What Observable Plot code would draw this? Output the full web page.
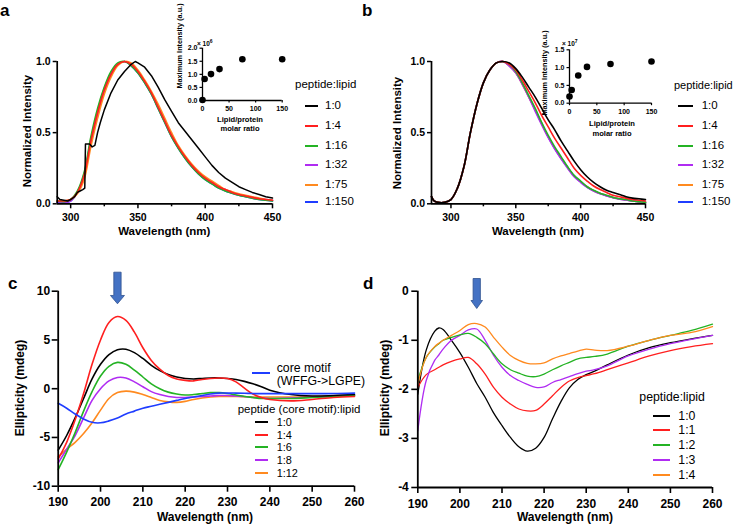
<!DOCTYPE html>
<html><head><meta charset="utf-8">
<script src="https://cdn.jsdelivr.net/npm/d3@7"></script>
<script src="https://cdn.jsdelivr.net/npm/@observablehq/plot@0.6"></script>
<style>
body{margin:0;background:#fff}
#fig{position:relative;width:733px;height:528px;overflow:hidden;font-family:"Liberation Sans",Arial,sans-serif;color:#000;background:#fff}
.t{position:absolute;white-space:nowrap;line-height:1}
.sw{position:absolute}
</style></head><body><div id="fig"></div>
<script>
// ---------- colours ----------
const pal = {black:"#000000", red:"#ff1f1f", green:"#24b324", purple:"#b02cf2", orange:"#ff8a1f", blue:"#1f3dff"};

// ---------- panel a (emission, normalized) ----------
const aWl = [290,295,300,305,310,315,320,325,330,335,340,345,350,355,360,365,370,375,380,385,390,395,400,405,410,415,420,425,430,435,440,445,450];
const aRed    = [0.02,0.02,0.03,0.08,0.20,0.44,0.64,0.80,0.91,0.98,1.00,0.98,0.93,0.86,0.78,0.68,0.58,0.48,0.40,0.33,0.27,0.22,0.18,0.15,0.12,0.10,0.08,0.065,0.055,0.045,0.035,0.03,0.025];
const aGreen  = [0.02,0.015,0.03,0.09,0.22,0.47,0.67,0.82,0.93,0.99,1.00,0.97,0.92,0.85,0.77,0.67,0.57,0.47,0.39,0.32,0.26,0.21,0.17,0.14,0.11,0.09,0.075,0.06,0.05,0.04,0.03,0.025,0.02];
const aOrange = [0.02,0.02,0.03,0.07,0.17,0.40,0.60,0.77,0.89,0.97,1.00,0.99,0.94,0.87,0.79,0.70,0.60,0.50,0.41,0.34,0.28,0.23,0.19,0.16,0.13,0.10,0.085,0.07,0.06,0.05,0.04,0.03,0.025];
const aPurple = [0.015,0.01,0.02,0.08,0.20,0.43,0.63,0.79,0.91,0.98,1.00,0.98,0.93,0.86,0.78,0.68,0.58,0.48,0.40,0.33,0.27,0.22,0.18,0.15,0.12,0.10,0.08,0.065,0.055,0.045,0.035,0.03,0.025];
const aBlue   = [0.01,0.01,0.02,0.08,0.21,0.45,0.65,0.81,0.92,0.98,1.00,0.97,0.92,0.85,0.77,0.67,0.57,0.47,0.39,0.32,0.26,0.21,0.17,0.14,0.11,0.09,0.075,0.06,0.05,0.04,0.03,0.025,0.02];
const aBlackWl = [290,292,295,298,300,303,305,307,309,310.5,311,314,316,318,320,322,325,330,335,340,345,348,350,355,360,365,370,375,380,385,390,395,400,405,410,415,420,425,430,435,440,445,450];
const aBlack   = [0.05,0.03,0.025,0.02,0.03,0.05,0.08,0.09,0.10,0.11,0.42,0.42,0.40,0.41,0.50,0.57,0.66,0.78,0.87,0.93,0.98,1.00,0.99,0.96,0.90,0.82,0.73,0.65,0.57,0.51,0.45,0.39,0.33,0.27,0.22,0.18,0.15,0.12,0.10,0.08,0.065,0.05,0.04];
const abTicksX = [300,350,400,450];
const abMinorX = [325,375,425];
const abTicksY = [0,0.5,1];

// inset a
const insRatio = [0,4,16,32,75,150];
const insA = [0.02,0.82,1.01,1.20,1.58,1.58];   // x 10^6
const insATicksY = [0,0.5,1,1.5,2];
const insTicksX = [0,50,100,150];

// ---------- panel b ----------
const bWl = [285,287,290,295,300,305,310,315,320,325,330,335,340,345,350,355,360,365,370,375,380,385,390,395,400,405,410,415,420,425,430,435,440,445,450];
const bLeft = [0.05,0.02,0.01,0.01,0.03,0.11,0.26,0.50,0.70,0.85,0.94,0.99,1.00];
const bBlackR  = [0.99,0.95,0.89,0.82,0.75,0.67,0.59,0.52,0.44,0.37,0.30,0.24,0.19,0.15,0.12,0.095,0.08,0.065,0.05,0.04,0.035,0.03];
const bRedR    = [0.98,0.94,0.87,0.79,0.71,0.62,0.54,0.46,0.39,0.32,0.25,0.20,0.16,0.125,0.10,0.08,0.06,0.05,0.04,0.03,0.025,0.02];
const bGreenR  = [0.98,0.93,0.85,0.76,0.67,0.57,0.48,0.40,0.33,0.26,0.20,0.16,0.12,0.095,0.075,0.06,0.045,0.035,0.03,0.02,0.015,0.01];
const bPurpleR = [0.97,0.92,0.84,0.75,0.65,0.555,0.465,0.385,0.315,0.25,0.19,0.15,0.115,0.09,0.07,0.055,0.042,0.033,0.027,0.02,0.015,0.01];
const bOrangeR = [0.97,0.92,0.84,0.75,0.66,0.56,0.47,0.39,0.32,0.255,0.195,0.155,0.12,0.092,0.072,0.057,0.044,0.034,0.028,0.02,0.015,0.01];
const bBlueR   = [0.97,0.92,0.845,0.755,0.66,0.565,0.47,0.39,0.32,0.255,0.195,0.155,0.118,0.092,0.072,0.057,0.044,0.034,0.028,0.02,0.015,0.01];

// inset b
const insB = [0.19,0.37,0.78,1.02,1.10,1.17];   // x 10^7
const insBTicksY = [0,0.5,1,1.5];

// ---------- panel c (CD) ----------
const cWl = [190,192,194,196,198,200,202,204,206,208,210,212,214,216,218,220,222,224,226,228,230,232,234,236,238,240,245,250,255,260];
const cBlack  = [-6.3,-4.8,-3.0,-1.0,1.0,2.5,3.5,4.0,4.05,3.7,3.1,2.4,1.85,1.45,1.2,1.05,1.0,1.05,1.1,1.1,1.05,0.95,0.75,0.5,0.2,-0.15,-0.6,-0.75,-0.7,-0.6];
const cRed    = [-7.2,-5.5,-3.2,-0.5,2.5,5.0,6.8,7.4,7.0,5.8,4.2,2.9,2.0,1.35,1.0,0.85,0.8,0.95,1.05,1.1,1.05,0.7,0.05,-0.55,-0.9,-1.1,-1.25,-1.1,-0.9,-0.8];
const cGreen  = [-8.3,-6.5,-4.5,-2.3,-0.3,1.3,2.3,2.7,2.5,1.9,1.2,0.5,0.0,-0.35,-0.55,-0.65,-0.6,-0.5,-0.4,-0.4,-0.5,-0.65,-0.8,-0.9,-1.0,-1.0,-1.0,-0.9,-0.8,-0.7];
const cPurple = [-7.6,-6.2,-4.8,-3.0,-1.2,0.0,0.8,1.15,1.1,0.7,0.2,-0.3,-0.6,-0.8,-0.9,-0.9,-0.85,-0.8,-0.75,-0.7,-0.7,-0.75,-0.8,-0.9,-0.95,-1.0,-0.95,-0.85,-0.8,-0.7];
const cOrange = [-7.0,-6.2,-5.5,-4.6,-3.5,-2.2,-1.0,-0.4,-0.25,-0.35,-0.6,-0.9,-1.2,-1.35,-1.4,-1.3,-1.1,-0.95,-0.85,-0.8,-0.8,-0.8,-0.82,-0.85,-0.85,-0.85,-0.85,-0.8,-0.75,-0.7];
const cBlue   = [-1.5,-2.0,-2.6,-3.1,-3.45,-3.5,-3.3,-3.0,-2.6,-2.3,-2.0,-1.8,-1.6,-1.4,-1.2,-1.0,-0.85,-0.7,-0.55,-0.45,-0.45,-0.45,-0.47,-0.5,-0.5,-0.5,-0.5,-0.5,-0.5,-0.45];
const cdTicksX = [190,200,210,220,230,240,250,260];
const cTicksY = [-10,-5,0,5,10];
const arrowC = [{x:204, y:10.33}];

// ---------- panel d (CD) ----------
const dWl = [190,192,194,195,196,198,200,202,204,206,208,210,212,214,216,218,220,222,224,226,228,230,232,235,240,245,250,255,260];
const dBlack  = [-2.1,-1.2,-0.82,-0.75,-0.78,-1.0,-1.25,-1.55,-1.88,-2.16,-2.48,-2.74,-2.98,-3.17,-3.26,-3.2,-2.98,-2.6,-2.25,-1.97,-1.8,-1.7,-1.63,-1.5,-1.3,-1.15,-1.05,-0.97,-0.9];
const dRed    = [-1.96,-1.7,-1.6,-1.55,-1.5,-1.43,-1.38,-1.35,-1.48,-1.69,-1.96,-2.16,-2.3,-2.4,-2.44,-2.43,-2.3,-2.13,-1.96,-1.83,-1.76,-1.72,-1.68,-1.6,-1.46,-1.32,-1.21,-1.13,-1.07];
const dGreen  = [-1.82,-1.35,-1.14,-1.07,-1.0,-0.94,-0.89,-0.86,-0.94,-1.07,-1.28,-1.48,-1.6,-1.67,-1.73,-1.74,-1.69,-1.6,-1.52,-1.45,-1.38,-1.35,-1.33,-1.28,-1.12,-1.0,-0.9,-0.8,-0.67];
const dPurple = [-2.84,-1.82,-1.41,-1.3,-1.18,-1.0,-0.9,-0.79,-0.77,-1.0,-1.31,-1.55,-1.72,-1.82,-1.9,-1.96,-1.95,-1.86,-1.8,-1.74,-1.68,-1.63,-1.6,-1.52,-1.32,-1.18,-1.07,-0.98,-0.9];
const dOrange = [-1.89,-1.35,-1.13,-1.06,-1.0,-0.9,-0.8,-0.68,-0.66,-0.73,-0.94,-1.14,-1.31,-1.41,-1.47,-1.48,-1.46,-1.38,-1.32,-1.27,-1.22,-1.18,-1.2,-1.21,-1.12,-1.0,-0.9,-0.84,-0.72];
const dTicksY = [-4,-3,-2,-1,0];
const arrowD = [{x:204, y:-0.047}];

// ---------- legends ----------
const abLegend = ["1:0","1:4","1:16","1:32","1:75","1:150"];
const abLegendColors = [pal.black,pal.red,pal.green,pal.purple,pal.orange,pal.blue];
const cLegend = ["1:0","1:4","1:6","1:8","1:12"];
const dLegend = ["1:0","1:1","1:2","1:3","1:4"];
const cdLegendColors = [pal.black,pal.red,pal.green,pal.purple,pal.orange];

// ================= helpers =================
const fig = document.getElementById("fig");
const FONT = '"Liberation Sans", Arial, sans-serif';
function txt(s, x, y, {size=12, weight="normal", anchor="start", rotate=0, html=false}={}) {
  const d = document.createElement("div"); d.className = "t";
  d.style.left = x + "px"; d.style.top = y + "px";
  d.style.fontSize = size + "px"; d.style.fontWeight = weight;
  const tx = anchor === "start" ? "0" : anchor === "middle" ? "-50%" : "-100%";
  d.style.transform = `translate(${tx},-50%)` + (rotate ? ` rotate(${rotate}deg)` : "");
  if (html) d.innerHTML = s; else d.textContent = s;
  fig.appendChild(d);
}
function swatch(x1, x2, y, color, w=2) {
  const d = document.createElement("div"); d.className = "sw";
  d.style.left = x1 + "px"; d.style.top = (y - w/2) + "px";
  d.style.width = (x2 - x1) + "px"; d.style.height = w + "px"; d.style.background = color;
  fig.appendChild(d);
}
function frame(l, r, t, b) {
  return {width: 733, height: 528, marginLeft: l, marginRight: 733 - r, marginTop: t, marginBottom: 528 - b};
}
function mount(svg) {
  svg.style.position = "absolute"; svg.style.left = "0px"; svg.style.top = "0px";
  svg.style.background = "none"; svg.style.overflow = "visible";
  fig.appendChild(svg);
}
function rows(wl, vals) { return vals.map((v, i) => ({wl: wl[i], v})); }
function series(wl, vals, color, sw, curve) {
  return Plot.line(rows(wl, vals), {x: "wl", y: "v", stroke: color, strokeWidth: sw, curve});
}
function blockArrow(shaftW, headW, top, headStart, tip) {
  return {draw(ctx) {
    const s = shaftW / 2, h = headW / 2;
    ctx.moveTo(-s, top); ctx.lineTo(s, top); ctx.lineTo(s, headStart); ctx.lineTo(h, headStart);
    ctx.lineTo(0, tip); ctx.lineTo(-h, headStart); ctx.lineTo(-s, headStart); ctx.closePath();
  }};
}
const f1 = d3.format(".1f");
const fInt = d => String(d);

// ================= panel a =================
mount(Plot.plot({
  ...frame(56.7, 272, 61, 203.3),
  x: {domain: [290, 450]}, y: {domain: [0, 1]},
  style: {fontFamily: FONT, fontSize: "10.5px", fontWeight: "bold"},
  marks: [
    series(aWl, aBlue, pal.blue, 1.6, "catmull-rom"),
    series(aWl, aPurple, pal.purple, 1.6, "catmull-rom"),
    series(aWl, aOrange, pal.orange, 1.6, "catmull-rom"),
    series(aWl, aGreen, pal.green, 1.6, "catmull-rom"),
    series(aWl, aRed, pal.red, 1.6, "catmull-rom"),
    series(aBlackWl, aBlack, pal.black, 1.5, "linear"),
    Plot.axisX({ticks: abTicksX, tickSize: 5, tickPadding: 5, tickFormat: fInt, label: null, strokeWidth: 1.5}),
    Plot.axisX({ticks: abMinorX, tickSize: 3, tickFormat: () => "", label: null, strokeWidth: 1.5}),
    Plot.axisY({ticks: abTicksY, tickSize: 4, tickPadding: 2.5, tickFormat: f1, label: null, strokeWidth: 1.5}),
    Plot.ruleY([0], {strokeWidth: 1.7}),
    Plot.ruleX([290], {strokeWidth: 1.7})
  ]
}));
// inset a
mount(Plot.plot({
  ...frame(202, 281.7, 47.7, 100),
  x: {domain: [0, 150]}, y: {domain: [0, 2]},
  style: {fontFamily: FONT, fontSize: "7px", fontWeight: "bold"},
  marks: [
    Plot.axisX({ticks: insTicksX, tickSize: 2.5, tickPadding: 3.5, tickFormat: fInt, label: null, strokeWidth: 1.2}),
    Plot.axisY({ticks: insATicksY, tickSize: 2.5, tickPadding: 2.5, tickFormat: f1, label: null, strokeWidth: 1.2}),
    Plot.ruleY([0], {strokeWidth: 1.3}),
    Plot.ruleX([0], {strokeWidth: 1.3}),
    Plot.dot(insRatio.map((r, i) => ({r, v: insA[i]})), {x: "r", y: "v", r: 3.3, fill: "black"})
  ]
}));

// ================= panel b =================
const bFull = (right) => bLeft.concat(right);
mount(Plot.plot({
  ...frame(431, 645, 61, 203.3),
  x: {domain: [285, 450]}, y: {domain: [0, 1]},
  style: {fontFamily: FONT, fontSize: "10.5px", fontWeight: "bold"},
  marks: [
    series(bWl, bFull(bBlueR), pal.blue, 1.6, "catmull-rom"),
    series(bWl, bFull(bOrangeR), pal.orange, 1.6, "catmull-rom"),
    series(bWl, bFull(bPurpleR), pal.purple, 1.6, "catmull-rom"),
    series(bWl, bFull(bGreenR), pal.green, 1.6, "catmull-rom"),
    series(bWl, bFull(bRedR), pal.red, 1.6, "catmull-rom"),
    series(bWl, bFull(bBlackR), pal.black, 1.6, "catmull-rom"),
    Plot.axisX({ticks: abTicksX, tickSize: 5, tickPadding: 5, tickFormat: fInt, label: null, strokeWidth: 1.5}),
    Plot.axisX({ticks: abMinorX, tickSize: 3, tickFormat: () => "", label: null, strokeWidth: 1.5}),
    Plot.axisY({ticks: abTicksY, tickSize: 4, tickPadding: 2.5, tickFormat: f1, label: null, strokeWidth: 1.5}),
    Plot.ruleY([0], {strokeWidth: 1.7}),
    Plot.ruleX([285], {strokeWidth: 1.7})
  ]
}));
// inset b
mount(Plot.plot({
  ...frame(569, 651, 49.3, 102.7),
  x: {domain: [0, 150]}, y: {domain: [0, 1.5]},
  style: {fontFamily: FONT, fontSize: "7px", fontWeight: "bold"},
  marks: [
    Plot.axisX({ticks: insTicksX, tickSize: 2.5, tickPadding: 3.5, tickFormat: fInt, label: null, strokeWidth: 1.2}),
    Plot.axisY({ticks: insBTicksY, tickSize: 2.5, tickPadding: 2.5, tickFormat: f1, label: null, strokeWidth: 1.2}),
    Plot.ruleY([0], {strokeWidth: 1.3}),
    Plot.ruleX([0], {strokeWidth: 1.3}),
    Plot.dot(insRatio.map((r, i) => ({r, v: insB[i]})), {x: "r", y: "v", r: 3.3, fill: "black"})
  ]
}));

// ================= panel c =================
mount(Plot.plot({
  ...frame(57.7, 354, 290.7, 485.7),
  x: {domain: [190, 260]}, y: {domain: [-10, 10]},
  style: {fontFamily: FONT, fontSize: "12px", fontWeight: "bold"},
  marks: [
    series(cWl, cOrange, pal.orange, 1.6, "catmull-rom"),
    series(cWl, cPurple, pal.purple, 1.6, "catmull-rom"),
    series(cWl, cGreen, pal.green, 1.6, "catmull-rom"),
    series(cWl, cBlack, pal.black, 1.6, "catmull-rom"),
    series(cWl, cRed, pal.red, 1.6, "catmull-rom"),
    series(cWl, cBlue, pal.blue, 1.6, "catmull-rom"),
    Plot.axisX({ticks: cdTicksX, tickSize: 6, tickPadding: 5.5, tickFormat: fInt, label: null, strokeWidth: 1.6}),
    Plot.axisY({ticks: cTicksY, tickSize: 6, tickPadding: 2, tickFormat: fInt, label: null, strokeWidth: 1.6}),
    Plot.ruleY([-10], {strokeWidth: 1.8}),
    Plot.ruleX([190], {strokeWidth: 1.8}),
    Plot.dot(arrowC, {x: "x", y: "y", symbol: blockArrow(7.3, 14, -15.8, 7.5, 15.8), fill: "#4472c4", stroke: "#2f528f", strokeWidth: 0.8})
  ]
}));

// ================= panel d =================
mount(Plot.plot({
  ...frame(417.3, 712, 290.7, 487),
  x: {domain: [190, 260]}, y: {domain: [-4, 0]},
  style: {fontFamily: FONT, fontSize: "12px", fontWeight: "bold"},
  marks: [
    series(dWl, dBlack, pal.black, 1.3, "catmull-rom"),
    series(dWl, dRed, pal.red, 1.3, "catmull-rom"),
    series(dWl, dPurple, pal.purple, 1.3, "catmull-rom"),
    series(dWl, dGreen, pal.green, 1.3, "catmull-rom"),
    series(dWl, dOrange, pal.orange, 1.3, "catmull-rom"),
    Plot.axisX({ticks: cdTicksX, tickSize: 6, tickPadding: 5.5, tickFormat: fInt, label: null, strokeWidth: 1.6}),
    Plot.axisY({ticks: dTicksY, tickSize: 6, tickPadding: 3, tickFormat: fInt, label: null, strokeWidth: 1.6}),
    Plot.ruleY([-4], {strokeWidth: 1.8}),
    Plot.ruleX([190], {strokeWidth: 1.8}),
    Plot.dot(arrowD, {x: "x", y: "y", symbol: blockArrow(7.3, 11.5, -15, 7, 15), fill: "#4472c4", stroke: "#2f528f", strokeWidth: 0.8})
  ]
}));

// ================= texts =================
// panel letters
txt("a", 0, 10, {size: 17, weight: "bold"});
txt("b", 362, 10, {size: 17, weight: "bold"});
txt("c", 8, 283.3, {size: 17, weight: "bold"});
txt("d", 363, 283, {size: 17, weight: "bold"});

// axis titles
txt("Wavelength (nm)", 164.3, 231.7, {size: 11.5, weight: "bold", anchor: "middle"});
txt("Normalized Intensity", 28.3, 130.8, {size: 11.5, weight: "bold", anchor: "middle", rotate: -90});
txt("Wavelength (nm)", 538, 231.7, {size: 11.5, weight: "bold", anchor: "middle"});
txt("Normalized Intensity", 398.3, 132.5, {size: 11.5, weight: "bold", anchor: "middle", rotate: -90});
txt("Wavelength (nm)", 205, 517, {size: 12, weight: "bold", anchor: "middle"});
txt("Ellipticity (mdeg)", 20, 388.3, {size: 12, weight: "bold", anchor: "middle", rotate: -90});
txt("Wavelength (nm)", 565, 517, {size: 12, weight: "bold", anchor: "middle"});
txt("Ellipticity (mdeg)", 385, 388, {size: 12, weight: "bold", anchor: "middle", rotate: -90});

// inset titles
txt("Maximum Intensity (a.u.)", 180, 46, {size: 7.3, weight: "bold", anchor: "middle", rotate: -90});
txt("Lipid/protein", 240, 120, {size: 7.6, weight: "bold", anchor: "middle"});
txt("molar ratio", 240, 129.3, {size: 7.6, weight: "bold", anchor: "middle"});
txt("× 10<sup style='font-size:5px'>6</sup>", 197, 42.5, {size: 6.5, weight: "bold", html: true});
txt("Maximum Intensity (a.u.)", 545, 73.3, {size: 7.3, weight: "bold", anchor: "middle", rotate: -90});
txt("Lipid/protein", 612, 124.3, {size: 7.6, weight: "bold", anchor: "middle"});
txt("molar ratio", 612, 134.3, {size: 7.6, weight: "bold", anchor: "middle"});
txt("× 10<sup style='font-size:5px'>7</sup>", 562, 42.5, {size: 6.5, weight: "bold", html: true});

// legend a
txt("peptide:lipid", 295, 85, {size: 11.5});
const abY = [106, 125.7, 145.7, 165.3, 184.5, 202];
abLegend.forEach((s, i) => { swatch(305, 318.3, abY[i], abLegendColors[i]); txt(s, 325, abY[i], {size: 11.5}); });
// legend b
txt("peptide:lipid", 674, 85, {size: 11});
abLegend.forEach((s, i) => { swatch(678.3, 693.3, abY[i], abLegendColors[i]); txt(s, 701.7, abY[i], {size: 11.5}); });
// legend c
swatch(251.7, 270, 373.3, pal.blue);
txt("core motif", 276.7, 367.7, {size: 12.3});
txt("(WFFG-&gt;LGPE)", 276.7, 380.7, {size: 12.3, html: true});
txt("peptide (core motif):lipid", 237.7, 409.5, {size: 11.5});
const cY = [422.2, 434.8, 447.4, 460, 472.6];
cLegend.forEach((s, i) => { swatch(255, 268.3, cY[i], cdLegendColors[i]); txt(s, 276.7, cY[i], {size: 10.9}); });
// legend d
txt("peptide:lipid", 639.3, 396.7, {size: 12.3});
const dY = [415.7, 430.3, 445, 460, 475];
dLegend.forEach((s, i) => { swatch(653.3, 670, dY[i], cdLegendColors[i]); txt(s, 678.3, dY[i], {size: 12.3}); });
</script></body></html>
